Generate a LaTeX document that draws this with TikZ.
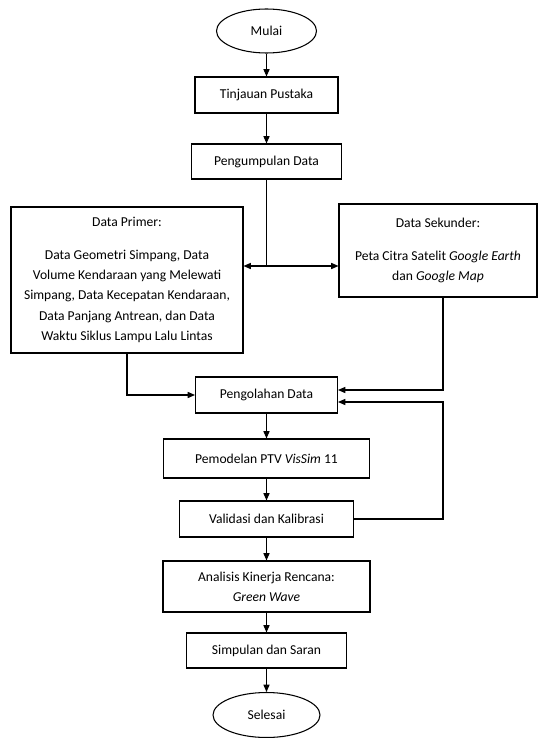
\documentclass[tikz,border=0pt]{standalone}
\usepackage{fontspec}
\setmainfont{Carlito}
\usetikzlibrary{shapes.geometric,arrows.meta}
\newdimen\pxu
\pxu=0.75pt
\tikzset{
  flowbox/.style={draw, line width=0.8pt, rectangle, align=center, inner sep=0pt,
    font=\fontsize{10.2}{15.2}\selectfont},
  termbox/.style={draw, line width=0.8pt, ellipse, inner sep=0pt,
    font=\fontsize{10.2}{15.2}\selectfont},
  link/.style={line width=0.8pt},
  arr/.style={line width=0.8pt, -{Triangle[length=5.5pt,width=4.6pt]}}
}
\begin{document}
\begin{tikzpicture}[x=0.75pt, y=-0.75pt]
  \useasboundingbox (0,0) rectangle (538,738);

  % terminals and process boxes, main column at x = 266.5
  \node[termbox, minimum width=100\pxu, minimum height=44\pxu] (mulai) at (266.5,31) {Mulai};
  \node[flowbox, minimum width=143\pxu, minimum height=36\pxu] (tinj) at (266.5,95) {Tinjauan Pustaka};
  \node[flowbox, minimum width=150\pxu, minimum height=35\pxu] (kumpul) at (266.5,161.5) {Pengumpulan Data};

  \node[flowbox, minimum width=232\pxu, minimum height=146\pxu] (primer) at (127,280)
    {Data Primer:\\[9.4pt]
     Data Geometri Simpang, Data\\
     Volume Kendaraan yang Melewati\\
     Simpang, Data Kecepatan Kendaraan,\\
     Data Panjang Antrean, dan Data\\
     Waktu Siklus Lampu Lalu Lintas};

  \node[flowbox, minimum width=198\pxu, minimum height=93\pxu] (sekunder) at (438,250.5)
    {Data Sekunder:\\[9.4pt]
     Peta Citra Satelit \textit{Google Earth}\\
     dan \textit{Google Map}};

  \node[flowbox, minimum width=142\pxu, minimum height=36\pxu] (olah) at (266.5,395) {Pengolahan Data};
  \node[flowbox, minimum width=206\pxu, minimum height=39\pxu] (model) at (266.5,458.5) {Pemodelan PTV \textit{VisSim} 11};
  \node[flowbox, minimum width=174\pxu, minimum height=36\pxu] (valid) at (266.5,519) {Validasi dan Kalibrasi};
  \node[flowbox, minimum width=207\pxu, minimum height=51\pxu] (analisis) at (266.5,586.5)
    {Analisis Kinerja Rencana:\\ \textit{Green Wave}};
  \node[flowbox, minimum width=160\pxu, minimum height=35\pxu] (simpul) at (266.5,650.5) {Simpulan dan Saran};
  \node[termbox, minimum width=107\pxu, minimum height=45\pxu] (selesai) at (266.5,715) {Selesai};

  % junction and bend points
  \coordinate (split) at (266.5,266);
  \coordinate (bsek) at (443,390);
  \coordinate (bval) at (443,402);

  % main flow
  \draw[arr] (mulai.south) -- (tinj.north);
  \draw[arr] (tinj.south) -- (kumpul.north);
  \draw[link] (kumpul.south) -- (split);
  \draw[arr] (split) -- (primer.east |- split);
  \draw[arr] (split) -- (sekunder.west |- split);
  \draw[arr] (primer.south) -- (primer.south |- olah.west) -- (olah.west);
  \draw[arr] (sekunder.south -| bsek) -- (bsek) -- (olah.east |- bsek);
  \draw[arr] (olah.south) -- (model.north);
  \draw[arr] (model.south) -- (valid.north);
  \draw[arr] (valid.east) -- (valid.east -| bval) -- (bval) -- (olah.east |- bval);
  \draw[arr] (valid.south) -- (analisis.north);
  \draw[arr] (analisis.south) -- (simpul.north);
  \draw[arr] (simpul.south) -- (selesai.north);
\end{tikzpicture}
\end{document}
